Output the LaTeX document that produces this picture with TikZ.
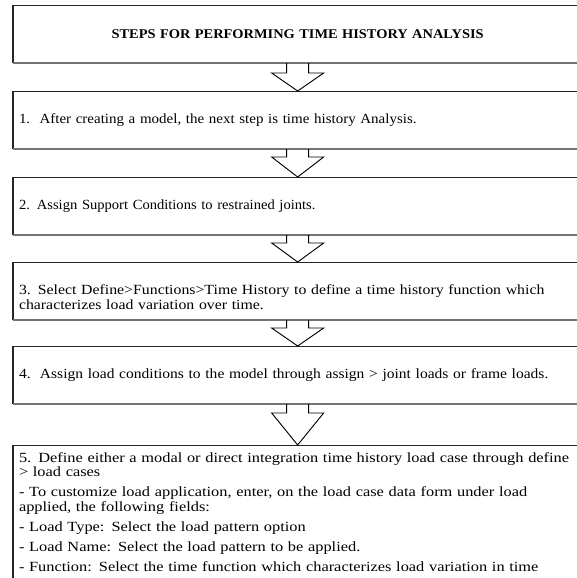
\documentclass[tikz,border=0pt]{standalone}
\usepackage{fontspec}
\setmainfont{Liberation Serif}
\newfontfamily\stretchA[FakeStretch=1.07]{Liberation Serif}
\newfontfamily\stretchB[FakeStretch=1.04]{Liberation Serif}
\newfontfamily\stretchC[FakeStretch=1.13]{Liberation Serif}
\newfontfamily\stretchD[FakeStretch=1.11]{Liberation Serif}
\newfontfamily\stretchE[FakeStretch=1.17]{Liberation Serif}
\newfontfamily\stretchT[FakeStretch=1.08]{Liberation Serif}
\usetikzlibrary{calc}

\begin{document}
\begin{tikzpicture}[x=0.75pt,y=0.75pt,
  box/.style={draw=black!85,line width=1pt,anchor=north west,
    inner xsep=4pt,inner ysep=3pt,text width=418pt,align=left},
  stepbox/.style={box,minimum height=42.5pt},
  size/.style={font=#1\fontsize{10.5}{11}\selectfont},
  flow/.style={draw=black,line width=0.7pt,line join=miter},
  edge/.style={line width=1.6pt}]
\useasboundingbox (0,0) rectangle (576,-578);
\node[stepbox,align=center,font=\stretchT\bfseries\fontsize{10}{11}\selectfont] (title) at (13,-5)
  {STEPS FOR PERFORMING TIME HISTORY ANALYSIS};
\node[stepbox,size=\stretchA] (model) at (13,-91)
  {1.\ \ After creating a model, the next step is time history Analysis.};
\node[stepbox,size=\stretchB] (support) at (13,-177)
  {2. Assign Support Conditions to restrained joints.};
\node[stepbox,size=\stretchC] (func) at (13,-262)
  {\rule{0pt}{17pt}3. Select Define>Functions>Time History to define a time history function which\\
  characterizes load variation over time.\par\vspace*{-8pt}};
\node[stepbox,size=\stretchD] (loads) at (13,-346)
  {4.\ \ Assign load conditions to the model through assign > joint loads or frame loads.};
\node[box,size=\stretchE,inner ysep=5pt] (cases) at (13,-445)
  {5. Define either a modal or direct integration time history load case through define\\
  > load cases\\[4pt]
  - To customize load application, enter, on the load case data form under load\\
  applied, the following fields:\\[4pt]
  - Load Type: Select the load pattern option\\[4pt]
  - Load Name: Select the load pattern to be applied.\\[4pt]
  - Function: Select the time function which characterizes load variation in time\par
  \vspace*{30pt}};
% heavier left and bottom edges
\foreach \n in {title,model,support,func,loads,cases}{
  \draw[edge,black!85] (\n.north west) -- (\n.south west);
  \draw[edge,black!55] (\n.south west) -- (\n.south east);
}
\foreach \a/\b/\h in {title/model/18,model/support/20,support/func/19,func/loads/18,loads/cases/32}
  \draw[flow] ($(\a.south)+(-11,0)$) |- ($(\b.north)+(-26,\h)$) -- (\b.north)
    -- ($(\b.north)+(26,\h)$) -| ($(\a.south)+(11,0)$);
\end{tikzpicture}
\end{document}
